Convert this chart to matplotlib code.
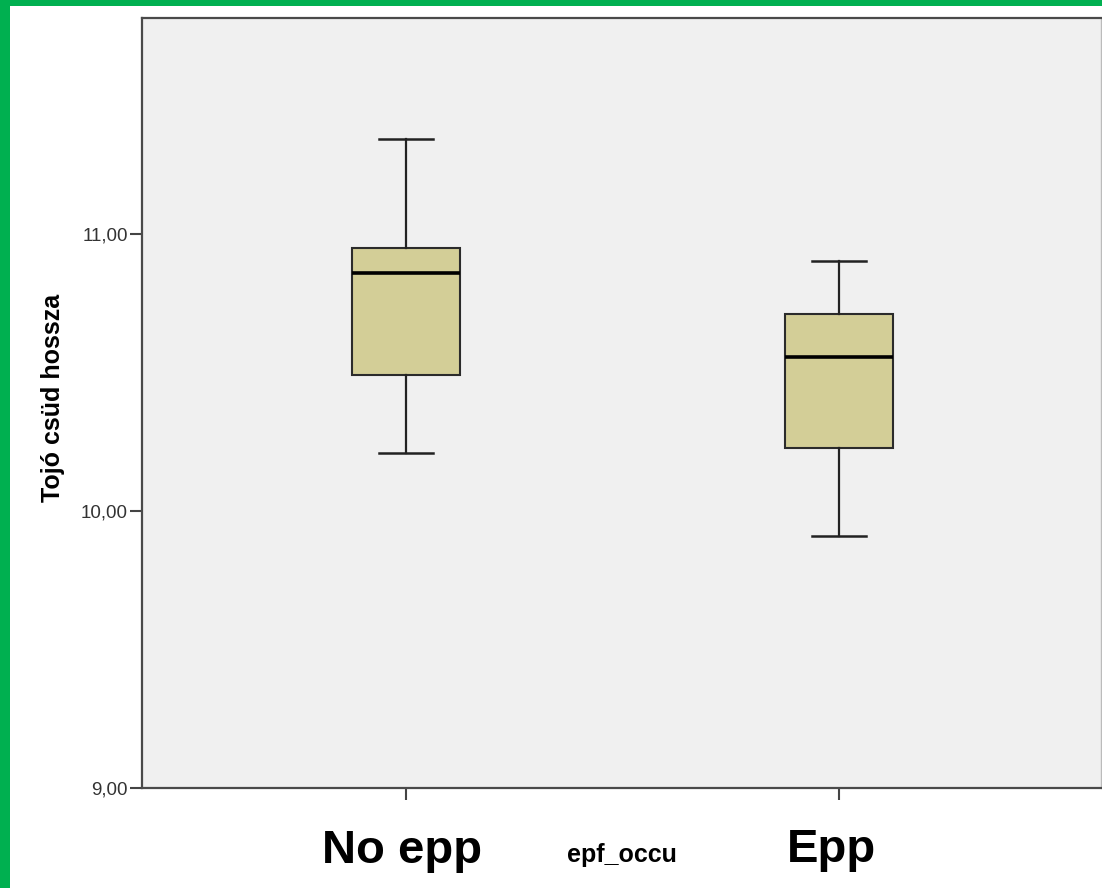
import matplotlib
matplotlib.use("Agg")
import matplotlib.pyplot as plt
from matplotlib.patches import Rectangle

# SPSS-style boxplot: egg-laying female tarsus length by EPP occurrence
groups = ["No epp", "Epp"]
whisker_low = [10.207, 9.907]
q1 = [10.488, 10.227]
median = [10.858, 10.554]
q3 = [10.948, 10.711]
whisker_high = [11.340, 10.899]

y_ticks = [9, 10, 11]
y_tick_labels = ["9,00", "10,00", "11,00"]

plt.rcParams['font.family'] = ['Liberation Sans', 'DejaVu Sans']

fig = plt.figure(figsize=(11.02, 8.88), dpi=100)
fig.patch.set_facecolor('white')

ax = fig.add_axes([142 / 1102, (888 - 787.5) / 888, (1101 - 142) / 1102, (787.5 - 18) / 888])
ax.set_facecolor('#F0F0F0')

stats = []
for i, g in enumerate(groups):
    stats.append({
        'label': g,
        'whislo': whisker_low[i],
        'q1': q1[i],
        'med': median[i],
        'q3': q3[i],
        'whishi': whisker_high[i],
        'fliers': [],
    })

ax.bxp(stats, positions=[1, 2], widths=0.25, capwidths=0.125,
       patch_artist=True, showfliers=False,
       boxprops=dict(facecolor='#D3CE97', edgecolor='#2b2b2b', linewidth=1.5),
       medianprops=dict(color='black', linewidth=2.6),
       whiskerprops=dict(color='#222222', linewidth=1.6),
       capprops=dict(color='#222222', linewidth=1.8))

ax.set_xlim(0.39, 2.605)
ax.set_ylim(9, 11.778)

ax.set_yticks(y_ticks)
ax.set_yticklabels(y_tick_labels, fontsize=13.5, color='#333333')
ax.set_xticks([1, 2])
ax.set_xticklabels(["", ""])
ax.tick_params(axis='both', direction='out', length=8.5, width=1.5, color='#444444', pad=1.5)

for side in ['left', 'bottom', 'top']:
    ax.spines[side].set_color('#4a4a4a')
    ax.spines[side].set_linewidth(1.6)
ax.spines['right'].set_color('#bbbbbb')
ax.spines['right'].set_linewidth(1.0)

# axis titles and big group labels
fig.text(53 / 1102, 1 - 397.5 / 888, "Tojó csüd hossza", rotation=90,
         ha='center', va='center', fontsize=18, fontweight='bold')
fig.text(622 / 1102, 1 - 862 / 888, "epf_occu", ha='center', va='baseline',
         fontsize=18, fontweight='bold')
fig.text(402 / 1102, 1 - 863 / 888, "No epp", ha='center', va='baseline',
         fontsize=34, fontweight='bold')
fig.text(831 / 1102, 1 - 862 / 888, "Epp", ha='center', va='baseline',
         fontsize=34, fontweight='bold')

# green frame on the left and top edges
green = '#00B050'
fig.add_artist(Rectangle((0, 0), 10 / 1102, 1, transform=fig.transFigure,
                         facecolor=green, edgecolor='none'))
fig.add_artist(Rectangle((0, 1 - 6 / 888), 1, 6 / 888, transform=fig.transFigure,
                         facecolor=green, edgecolor='none'))

fig.savefig('out.png', dpi=100)
